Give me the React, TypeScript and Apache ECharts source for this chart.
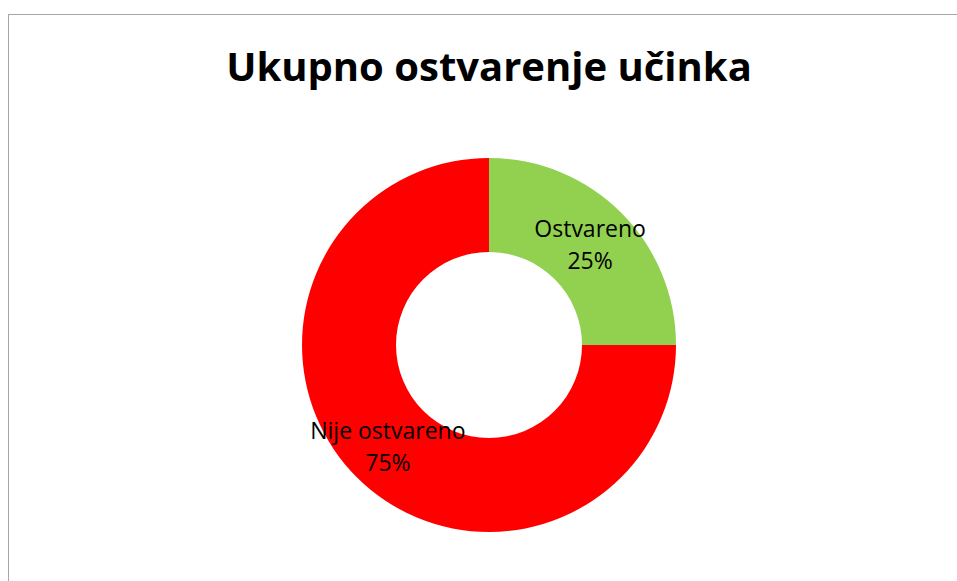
import React, { useEffect, useRef } from "react";
import * as echarts from "echarts";

const categories = ["Ostvareno", "Nije ostvareno"];
const values = [25, 75];
const colors = ["#92D050", "#FF0000"];
const titleText = "Ukupno ostvarenje učinka";

export default function App() {
  const ref = useRef<HTMLDivElement>(null);
  useEffect(() => {
    if (!ref.current) return;
    const chart = echarts.init(ref.current, undefined, { renderer: "svg" });
    chart.setOption({
      animation: false,
      title: {
        text: titleText,
        left: 475,
        textAlign: "center",
        top: 25,
        textStyle: {
          fontFamily: "Open Sans",
          fontWeight: "bold",
          fontSize: 40,
          color: "#000",
        },
      },
      series: [
        {
          type: "pie",
          center: [480, 330],
          radius: [93, 187],
          startAngle: 90,
          clockwise: true,
          avoidLabelOverlap: false,
          label: {
            show: true,
            position: "inside",
            formatter: (p: any) => `${p.name}\n${p.value}%`,
            fontFamily: "Open Sans",
            fontSize: 23,
            lineHeight: 32,
            color: "#000",
          },
          labelLine: { show: false },
          itemStyle: { borderWidth: 0 },
          emphasis: { disabled: true },
          data: categories.map((c, i) => ({
            name: c,
            value: values[i],
            itemStyle: { color: colors[i] },
          })),
        },
      ],
    });
    return () => chart.dispose();
  }, []);
  return (
    <div
      ref={ref}
      style={{
        position: "absolute",
        left: 8,
        top: 14,
        width: 970,
        height: 600,
        border: "1px solid #a6a6a6",
        boxSizing: "border-box",
        background: "#fff",
      }}
    />
  );
}
